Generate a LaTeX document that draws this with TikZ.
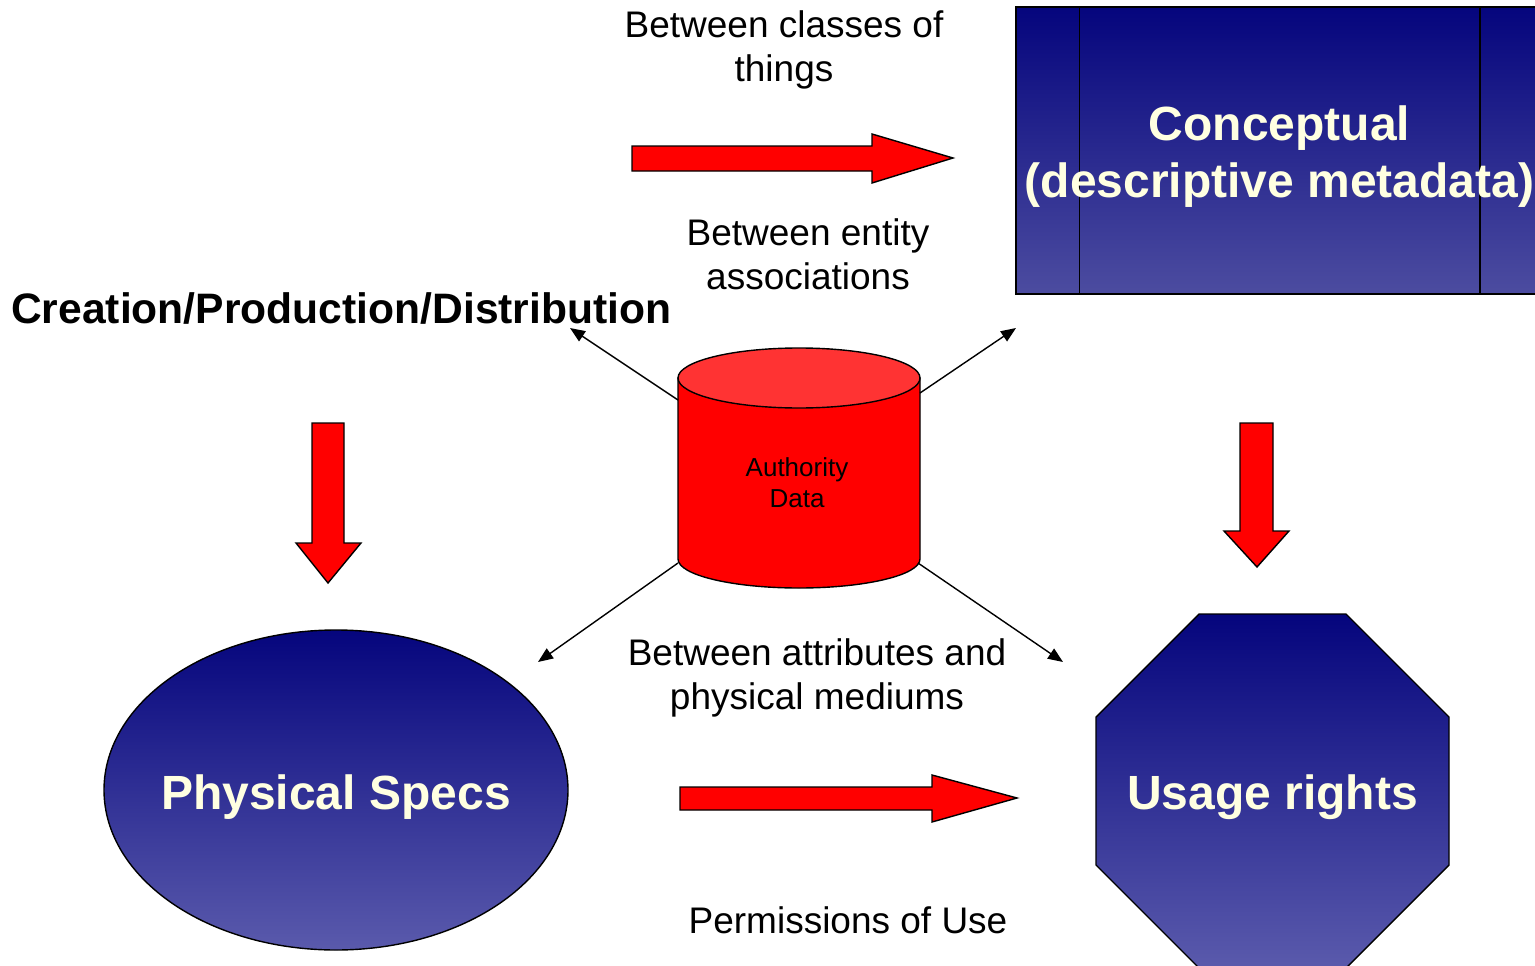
\documentclass[tikz,border=0pt]{standalone}
\usepackage{fontspec}
\setmainfont{Liberation Sans}
\usetikzlibrary{shapes.geometric,arrows.meta}
\definecolor{navytop}{RGB}{5,5,125}
\definecolor{navybot}{RGB}{90,90,172}
\definecolor{navybotrect}{RGB}{76,76,160}
\definecolor{cream}{RGB}{255,255,225}
\definecolor{cyltop}{RGB}{255,51,51}
\tikzset{
 blockarrow/.style={fill=red, draw=black, line width=1.4pt, line join=miter},
 link/.style={draw=black, line width=1.4pt, -{Triangle[length=15pt,width=12pt]}},
 lbl/.style={font=\fontsize{37}{44}\selectfont, align=center, inner sep=0pt},
 bigtext/.style={font=\bfseries\fontsize{48}{57}\selectfont, text=cream, align=center, inner sep=0pt},
 navyshade/.style={top color=navytop, bottom color=navybot, draw=black, line width=1.4pt},
}
\begin{document}
\begin{tikzpicture}[x=1pt,y=-1pt]
\useasboundingbox (0,0) rectangle (1535,966);
\clip (0,0) rectangle (1535,966);

% Conceptual box (predefined process)
\node[navyshade, bottom color=navybotrect, rectangle, minimum width=527pt, minimum height=287pt, bigtext] (concept) at (1279.5,150.5) {};
\draw[line width=1.6pt] ([xshift=64pt]concept.north west) -- ([xshift=64pt]concept.south west);
\draw[line width=1.6pt] ([xshift=-64pt]concept.north east) -- ([xshift=-64pt]concept.south east);
\node[bigtext] (concepttext) at (1279.5,157) {Conceptual\\(descriptive metadata)};

% Physical Specs ellipse
\path[navyshade] (336,790) ellipse[x radius=232, y radius=160];
\node[bigtext] (phys) at (336,797) {Physical Specs};

% Usage rights octagon
\path[navyshade] (1199,614) -- (1346,614) -- (1449,717) -- (1449,865) -- (1346,968) -- (1199,968) -- (1096,865) -- (1096,717) -- cycle;
\node[bigtext] (usage) at (1272.5,797) {Usage rights};

% Cylinder
\filldraw[fill=red, draw=black, line width=1.4pt] (678,378) -- (678,559) arc[start angle=180, end angle=0, x radius=121, y radius=29] -- (920,378) -- cycle;
\filldraw[fill=cyltop, draw=black, line width=1.4pt] (799,378) ellipse[x radius=121, y radius=30];
\node[font=\fontsize{26}{31}\selectfont, align=center, inner sep=0pt] (auth) at (797,483) {Authority\\Data};

% connectors
\coordinate (cnw) at (678,400);
\coordinate (cne) at (920,393);
\coordinate (csw) at (678,563);
\coordinate (cse) at (918,563);
\coordinate (t1) at (570,328);
\coordinate (t2) at (1016,328);
\coordinate (t3) at (538,662);
\coordinate (t4) at (1063,662);
\draw[link] (cnw) -- (t1);
\draw[link] (cne) -- (t2);
\draw[link] (csw) -- (t3);
\draw[link] (cse) -- (t4);

% block arrows
\draw[blockarrow] (632,146) -- (872,146) -- (872,134) -- (953,158) -- (872,183) -- (872,171) -- (632,171) -- cycle;
\draw[blockarrow] (680,787) -- (932,787) -- (932,775) -- (1017,798) -- (932,822) -- (932,810) -- (680,810) -- cycle;
\draw[blockarrow] (312,423) -- (344,423) -- (344,543) -- (361,543) -- (328,583) -- (296,543) -- (312,543) -- cycle;
\draw[blockarrow] (1240,423) -- (1273,423) -- (1273,531) -- (1289,531) -- (1257,567) -- (1224,531) -- (1240,531) -- cycle;

% labels
\node[lbl] (classes) at (784,50) {Between classes of\\things};
\node[lbl] (entity) at (808,254) {Between entity\\associations};
\node[lbl] (attr) at (817,678) {Between attributes and\\physical mediums};
\node[lbl] (perm) at (848,920) {Permissions of Use};
\node[font=\bfseries\fontsize{42.6}{50}\selectfont, inner sep=0pt, anchor=west] (cpd) at (11,308) {Creation/Production/Distribution};
\end{tikzpicture}
\end{document}
